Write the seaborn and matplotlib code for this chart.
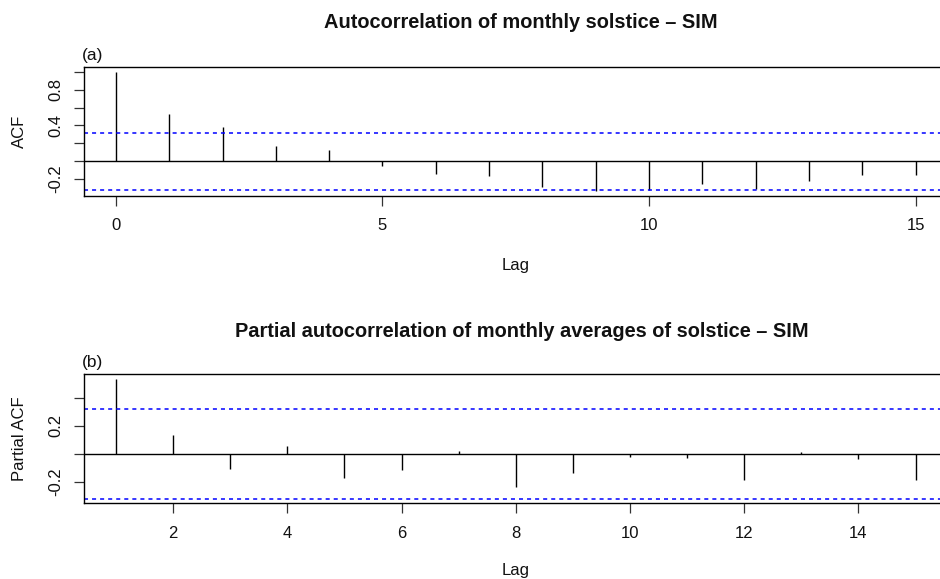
import numpy as np
import pandas as pd
import seaborn as sns
import matplotlib
matplotlib.use("Agg")
import matplotlib.pyplot as plt

# ---- data ----
acf_lags = list(range(0, 16))
acf_vals = [1.0, 0.526, 0.378, 0.17, 0.126, -0.052, -0.144, -0.163,
            -0.285, -0.337, -0.326, -0.252, -0.307, -0.219, -0.152, -0.152]
pacf_lags = list(range(1, 16))
pacf_vals = [0.536, 0.132, -0.108, 0.054, -0.172, -0.113, 0.021, -0.235,
             -0.139, -0.020, -0.031, -0.184, 0.014, -0.035, -0.184]
ci = 0.318

title_a = "Autocorrelation of monthly solstice \u2013 SIM"
title_b = "Partial autocorrelation of monthly averages of solstice \u2013 SIM"
acf_xticks = [0, 5, 10, 15]
pacf_xticks = [2, 4, 6, 8, 10, 12, 14]
acf_yticks = [-0.2, 0.0, 0.2, 0.4, 0.6, 0.8, 1.0]
acf_ylabels = ["-0.2", "", "", "0.4", "", "0.8", ""]
pacf_yticks = [-0.2, 0.0, 0.2, 0.4]
pacf_ylabels = ["-0.2", "", "0.2", ""]

sns.set_theme(style="white")
plt.rcParams["font.family"] = ["Liberation Sans", "DejaVu Sans"]
plt.rcParams["lines.scale_dashes"] = False

W, H = 940, 579
fig = plt.figure(figsize=(W / 100, H / 100), dpi=100)
fig.patch.set_facecolor("white")

FS = 12


def px_ax(left, top, right, bottom):
    return [left / W, 1 - bottom / H, (right - left) / W, (bottom - top) / H]


def r_lim(lo, hi):
    ext = 0.04 * (hi - lo)
    return lo - ext, hi + ext


def draw(ax, lags, vals, xticks, yticks, ylabels, ylabel, tag):
    df = pd.DataFrame({"lag": lags, "val": vals})
    ax.vlines(df["lag"], 0, df["val"], color="black", lw=1.0)
    ax.axhline(0, color="black", lw=1.0)
    for c in (ci, -ci):
        ax.axhline(c, color="#0000FF", lw=1.1, linestyle=(0, (2.9, 2.9)))
    ax.set_xlim(*r_lim(min(lags), max(lags)))
    ax.set_ylim(*r_lim(min(min(vals), -ci), max(max(vals), ci)))
    ax.set_xticks(xticks)
    ax.set_xticklabels([str(t) for t in xticks])
    ax.set_yticks(yticks)
    ax.set_yticklabels(ylabels, rotation=90, va="center")
    for s in ax.spines.values():
        s.set_color("black")
        s.set_linewidth(1.0)
    ax.tick_params(axis="both", direction="out", length=7.2, width=0.9,
                   color="#333333", labelsize=FS, labelcolor="#111111",
                   bottom=True, left=True)
    ax.tick_params(axis="x", pad=9.0)
    ax.tick_params(axis="y", pad=7.5)
    ax.set_xlabel("Lag", fontsize=FS, color="#111111")
    ax.set_ylabel(ylabel, fontsize=FS, color="#111111")
    ax.grid(False)
    ax.text(-0.002, 1.03, tag, transform=ax.transAxes, fontsize=12.5,
            ha="left", va="bottom", color="#111111")


ax1 = fig.add_axes(px_ax(84, 67, 947.5, 196))
draw(ax1, acf_lags, acf_vals, acf_xticks, acf_yticks, acf_ylabels, "ACF", "(a)")
ax1.xaxis.set_label_coords(0.5, (196 - 266) / 129.0)
ax1.xaxis.label.set_va("center")
ax1.yaxis.set_label_coords((19 - 84) / 863.5, 0.5)
ax1.yaxis.label.set_va("center")

ax2 = fig.add_axes(px_ax(84, 374, 947.5, 503.3))
draw(ax2, pacf_lags, pacf_vals, pacf_xticks, pacf_yticks, pacf_ylabels,
     "Partial ACF", "(b)")
ax2.xaxis.set_label_coords(0.5, (503.3 - 571) / 129.3)
ax2.xaxis.label.set_va("center")
ax2.yaxis.set_label_coords((19 - 84) / 863.5, 0.5)
ax2.yaxis.label.set_va("center")

fig.text(521 / W, 1 - 22.7 / H, title_a, ha="center", va="center",
         fontsize=14.4, fontweight="bold", color="#111111")
fig.text(522 / W, 1 - 331.7 / H, title_b, ha="center", va="center",
         fontsize=14.4, fontweight="bold", color="#111111")

fig.savefig("out.png", dpi=100, facecolor="white")
